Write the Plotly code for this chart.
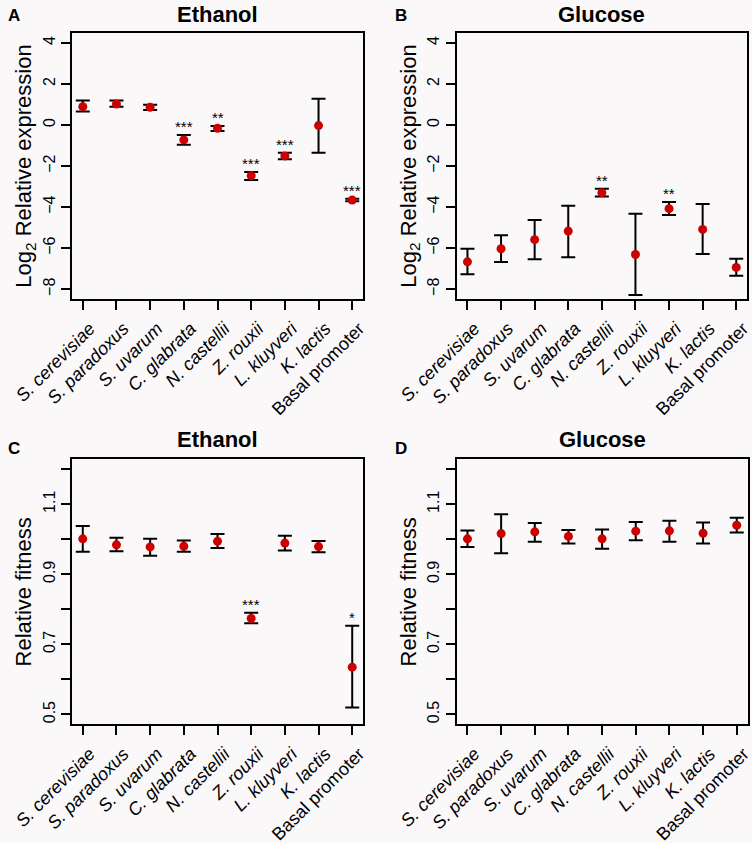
import plotly.graph_objects as go

# ---------------- data ----------------
species = ["S. cerevisiae", "S. paradoxus", "S. uvarum", "C. glabrata", "N. castellii",
           "Z. rouxii", "L. kluyveri", "K. lactis", "Basal promoter"]
italic = [True, True, True, True, True, True, True, True, False]

# Panel A: Log2 relative expression, Ethanol
expr_eth = [0.89, 1.02, 0.86, -0.73, -0.16, -2.47, -1.51, -0.03, -3.66]
expr_eth_hi = [1.19, 1.19, 0.99, -0.49, -0.05, -2.29, -1.35, 1.28, -3.60]
expr_eth_lo = [0.65, 0.89, 0.73, -0.96, -0.29, -2.68, -1.67, -1.35, -3.72]
expr_eth_sig = ["", "", "", "***", "**", "***", "***", "", "***"]

# Panel B: Log2 relative expression, Glucose
expr_glu = [-6.67, -6.03, -5.59, -5.17, -3.30, -6.31, -4.08, -5.09, -6.94]
expr_glu_hi = [-6.03, -5.38, -4.63, -3.94, -3.11, -4.33, -3.76, -3.85, -6.52]
expr_glu_lo = [-7.27, -6.68, -6.54, -6.44, -3.48, -8.28, -4.39, -6.29, -7.35]
expr_glu_sig = ["", "", "", "", "**", "", "**", "", ""]

# Panel C: Relative fitness, Ethanol
fit_eth = [1.001, 0.984, 0.978, 0.980, 0.994, 0.774, 0.989, 0.979, 0.635]
fit_eth_hi = [1.038, 1.004, 1.001, 0.996, 1.015, 0.790, 1.010, 0.995, 0.753]
fit_eth_lo = [0.964, 0.966, 0.953, 0.964, 0.975, 0.760, 0.968, 0.963, 0.520]
fit_eth_sig = ["", "", "", "", "", "***", "", "", "*"]

# Panel D: Relative fitness, Glucose
fit_glu = [1.001, 1.016, 1.021, 1.008, 1.001, 1.023, 1.024, 1.017, 1.040]
fit_glu_hi = [1.025, 1.071, 1.046, 1.026, 1.028, 1.049, 1.053, 1.048, 1.061]
fit_glu_lo = [0.978, 0.960, 0.993, 0.988, 0.973, 0.997, 0.993, 0.988, 1.019]
fit_glu_sig = ["", "", "", "", "", "", "", "", ""]

expr_ticks = [-8, -6, -4, -2, 0, 2, 4]
fit_ticks = [0.5, 0.7, 0.9, 1.1]
fit_minor_step = 0.1

panel_titles = ["Ethanol", "Glucose", "Ethanol", "Glucose"]
panel_letters = ["A", "B", "C", "D"]

# ---------------- layout helpers ----------------
W, H = 752, 843
FONT = "Liberation Sans, Arial, Helvetica, sans-serif"
RED = "#CC0000"
BG = "#FAF8F9"

def xd(a, b):
    return [a / W, b / W]

def yd(top, bottom):
    return [1 - bottom / H, 1 - top / H]

boxes = [
    (72, 363, 33, 299),
    (456.7, 747, 33, 299),
    (72, 363, 459.3, 724.3),
    (456.7, 747.5, 459.3, 724.3),
]

panels = [
    (expr_eth, expr_eth_hi, expr_eth_lo, expr_eth_sig),
    (expr_glu, expr_glu_hi, expr_glu_lo, expr_glu_sig),
    (fit_eth, fit_eth_hi, fit_eth_lo, fit_eth_sig),
    (fit_glu, fit_glu_hi, fit_glu_lo, fit_glu_sig),
]

xpos = list(range(1, len(species) + 1))
ticktext = [f"<i>{s}</i>" if it else s for s, it in zip(species, italic)]

fig = go.Figure()
annotations = []
layout = {}

for i, (vals, hi, lo, sig) in enumerate(panels):
    n = i + 1
    xa = "x" if n == 1 else f"x{n}"
    ya = "y" if n == 1 else f"y{n}"
    fig.add_trace(go.Scatter(
        x=xpos, y=vals, mode="markers",
        marker=dict(color=RED, size=9, line=dict(width=0)),
        error_y=dict(type="data", symmetric=False,
                     array=[h - v for h, v in zip(hi, vals)],
                     arrayminus=[v - l for v, l in zip(vals, lo)],
                     color="black", thickness=2, width=7),
        xaxis=xa, yaxis=ya, showlegend=False, hoverinfo="skip",
    ))
    for xv, h, s in zip(xpos, hi, sig):
        if s:
            annotations.append(dict(
                x=xv, y=h, xref=xa, yref=ya, text=s, showarrow=False,
                yanchor="bottom", xanchor="center", yshift=-2,
                font=dict(family=FONT, size=15, color="black")))

    l, r, t, b = boxes[i]
    axis_common = dict(showline=True, mirror=True, linecolor="black", linewidth=2,
                       ticks="outside", ticklen=9, tickwidth=2, tickcolor="black",
                       showgrid=False, zeroline=False, automargin=False)
    xkey = "xaxis" if n == 1 else f"xaxis{n}"
    ykey = "yaxis" if n == 1 else f"yaxis{n}"
    layout[xkey] = dict(domain=xd(l, r), anchor=ya, range=[0.68, 9.32],
                        tickmode="array", tickvals=xpos, ticktext=ticktext,
                        tickangle=-45, ticklabelshift=7, ticklabelstandoff=1,
                        ticklabeloverflow="allow",
                        tickfont=dict(family=FONT, size=18, color="black"),
                        **axis_common)
    if i < 2:
        ydict = dict(range=[-8.48, 4.48], tickmode="array", tickvals=expr_ticks,
                     ticktext=[str(v).replace("-", "\u2212") for v in expr_ticks],
                     title=dict(text="Log<sub>2</sub> Relative expression",
                                font=dict(family=FONT, size=22, color="black"), standoff=3))
    else:
        ydict = dict(range=[0.472, 1.228], tickmode="array", tickvals=fit_ticks,
                     ticktext=[f"{v:.1f}" for v in fit_ticks],
                     minor=dict(ticks="outside", tick0=fit_ticks[0], dtick=fit_minor_step,
                                ticklen=9, tickwidth=2, tickcolor="black", showgrid=False),
                     title=dict(text="Relative fitness",
                                font=dict(family=FONT, size=22, color="black"), standoff=3))
    layout[ykey] = dict(domain=yd(t, b), anchor=xa, tickangle=-90,
                        tickfont=dict(family=FONT, size=16, color="black"),
                        **ydict, **axis_common)

    # panel title and letter
    title_y = 14.5 if i < 2 else 439
    annotations.append(dict(x=((l + r) / 2) / W, y=1 - title_y / H, xref="paper", yref="paper",
                            text=f"<b>{panel_titles[i]}</b>", showarrow=False,
                            xanchor="center", yanchor="middle",
                            font=dict(family=FONT, size=22, color="black")))
    letter_x = 14 if i % 2 == 0 else 401
    letter_y = 15 if i < 2 else 449
    annotations.append(dict(x=letter_x / W, y=1 - letter_y / H, xref="paper", yref="paper",
                            text=f"<b>{panel_letters[i]}</b>", showarrow=False,
                            xanchor="center", yanchor="middle",
                            font=dict(family=FONT, size=17, color="black")))

fig.update_layout(
    width=W, height=H,
    margin=dict(l=0, r=0, t=0, b=0, autoexpand=False),
    paper_bgcolor=BG, plot_bgcolor=BG,
    font=dict(family=FONT, color="black"),
    annotations=annotations,
    **layout,
)

fig.write_html("out.html", config={"displayModeBar": False},
               post_script="document.body.style.margin='0';")
